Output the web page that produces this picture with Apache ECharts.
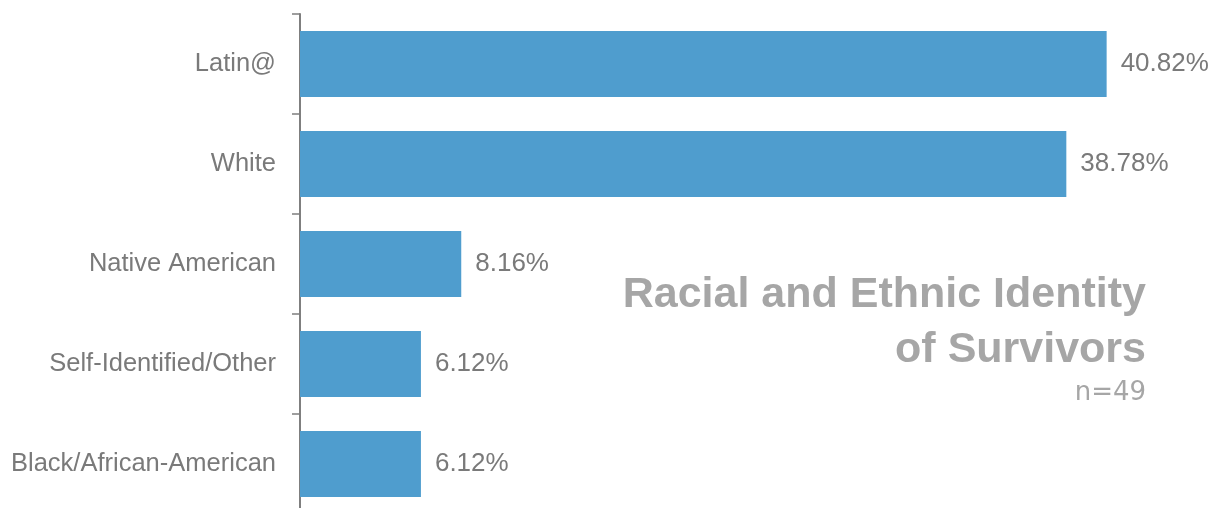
<!DOCTYPE html>
<html>
<head>
<meta charset="utf-8">
<script src="https://cdn.jsdelivr.net/npm/echarts@6/dist/echarts.min.js"></script>
<style>
html,body{margin:0;padding:0;background:#fff;}
#chart{width:1217px;height:508px;}
</style>
</head>
<body>
<div id="chart"></div>
<script>
const categories = ["Latin@", "White", "Native American", "Self-Identified/Other", "Black/African-American"];
const values = [40.82, 38.78, 8.16, 6.12, 6.12];
const titleLines = ["Racial and Ethnic Identity", "of Survivors"];
const subtitle = "n=49";

const chart = echarts.init(document.getElementById('chart'), null, {renderer: 'canvas'});
const font = 'Liberation Sans, Arial, sans-serif';
const titleColor = '#A6A6A6';
chart.setOption({
  animation: false,
  backgroundColor: '#ffffff',
  graphic: [
    {type: 'text', x: 1146, y: 295, style: {text: titleLines[0], fill: titleColor, font: 'bold 43px Liberation Sans, Arial, sans-serif', textAlign: 'right', textVerticalAlign: 'middle'}},
    {type: 'text', x: 1146, y: 350, style: {text: titleLines[1], fill: titleColor, font: 'bold 43px Liberation Sans, Arial, sans-serif', textAlign: 'right', textVerticalAlign: 'middle'}},
    {type: 'text', x: 1146, y: 393, style: {text: subtitle, fill: titleColor, font: '26px DejaVu Sans, sans-serif', textAlign: 'right', textVerticalAlign: 'middle'}}
  ],
  grid: {left: 300, top: 14, width: 909, height: 500, outerBoundsMode: 'none'},
  xAxis: {type: 'value', min: 0, max: 46, show: false, splitLine: {show: false}},
  yAxis: {
    type: 'category',
    data: categories,
    inverse: true,
    axisLine: {show: true, lineStyle: {color: '#7F7F7F', width: 2}},
    axisTick: {show: true, length: 8, lineStyle: {color: '#7F7F7F', width: 1.5}},
    axisLabel: {fontFamily: font, fontSize: 25.5, color: '#7A7A7A', margin: 24, padding: [3, 0, 0, 0]}
  },
  series: [{
    type: 'bar',
    data: values,
    barCategoryGap: '34%',
    itemStyle: {color: '#4F9DCE'},
    label: {
      show: true, position: 'right', distance: 14,
      fontFamily: font, fontSize: 26, color: '#7A7A7A',
      padding: [5, 0, 0, 0],
      formatter: p => p.value.toFixed(2) + '%'
    }
  }]
});
</script>
</body>
</html>
